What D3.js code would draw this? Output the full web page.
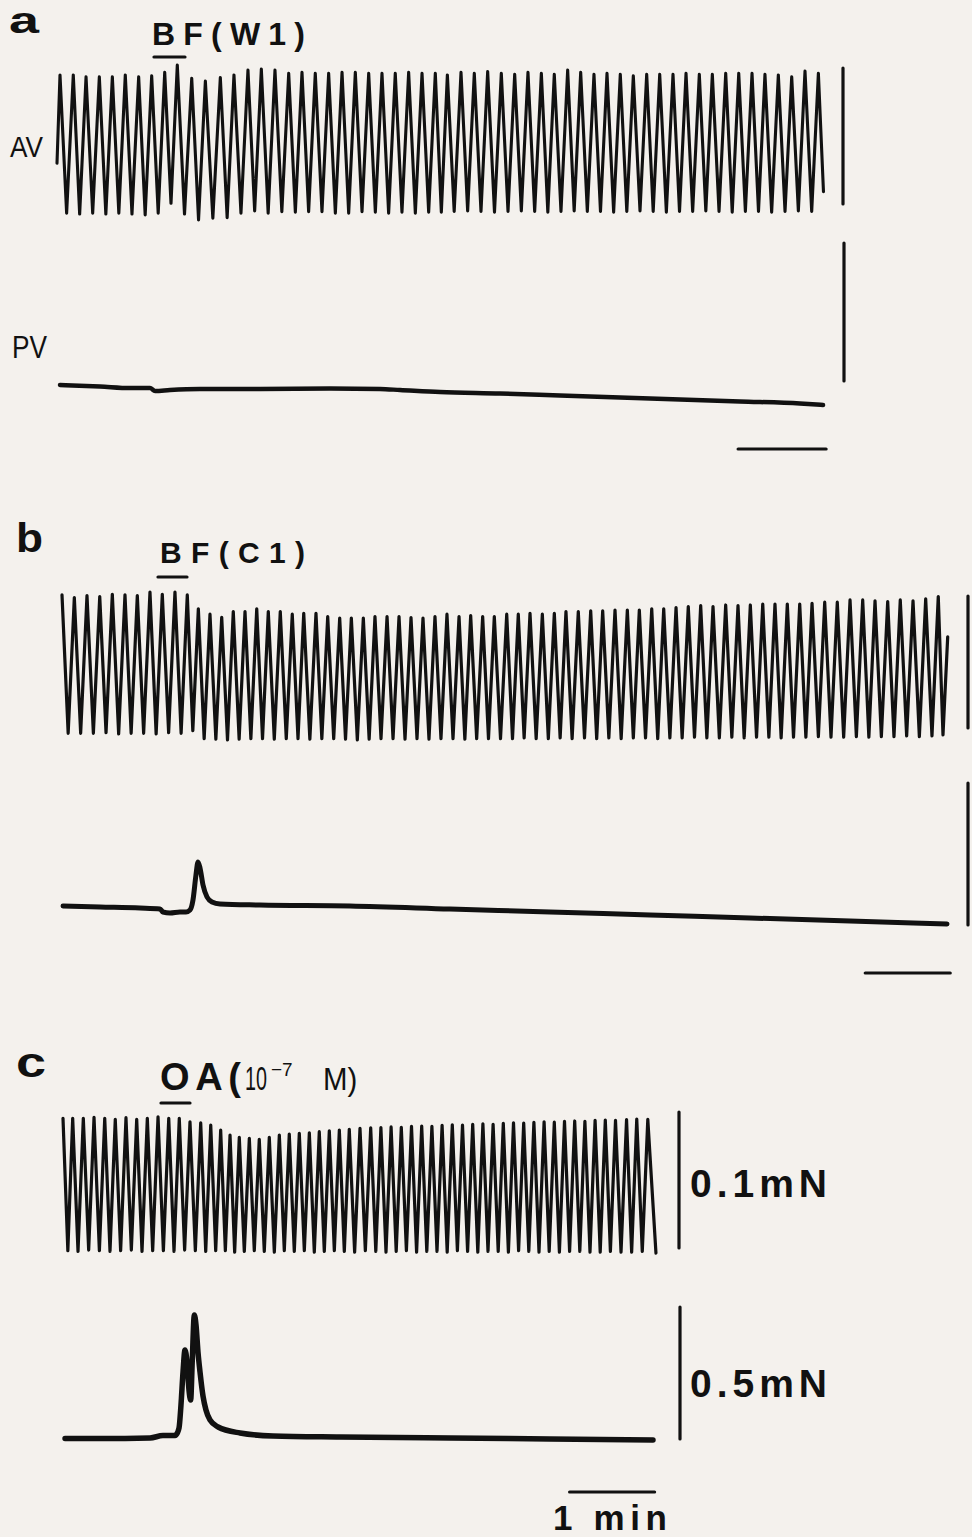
<!DOCTYPE html>
<html><head><meta charset="utf-8">
<script src="https://cdn.jsdelivr.net/npm/d3@7"></script>
<style>html,body{margin:0;padding:0;background:#f4f1ed;} svg{display:block;}</style>
</head><body>
<script>
// ---------------- DATA (time in min, force in µN) ----------------
// Panel a : BF(W1)
const aAvStart = [0, 30];
const aAvEnd = [8.71, 9];
const aAvPeakT = [0.034,0.185,0.330,0.481,0.629,0.776,0.928,1.076,1.224,1.367,1.531,1.686,1.856,2.011,2.170,2.322,2.477,2.633,2.784,2.935,3.087,3.239,3.390,3.542,3.693,3.844,3.996,4.148,4.299,4.436,4.591,4.742,4.894,5.049,5.201,5.352,5.504,5.651,5.803,5.951,6.102,6.250,6.401,6.549,6.701,6.849,7.000,7.148,7.299,7.447,7.599,7.747,7.898,8.045,8.197,8.349,8.500,8.652];
const aAvPeakV = [94.9,94.9,93.6,93.6,93.6,94.9,93.6,94.3,96.8,102.2,92.4,90.4,92.9,94.9,98.5,99.3,98.5,96.1,96.8,96.1,96.1,96.8,96.8,96.1,96.1,96.1,96.8,96.1,96.1,94.9,96.8,96.1,97.3,96.1,95.4,96.8,96.1,95.4,98.5,96.8,95.4,96.1,95.4,94.3,95.4,95.4,95.4,96.1,95.4,95.4,96.1,96.1,96.1,95.4,94.9,93.6,97.8,96.1];
const aAvTroughV = [-6.8,-7.4,-6.8,-7.4,-6.8,-7.4,-8.1,-6.8,0.5,-7.4,-11.8,-10.5,-10.1,-6.8,-5.1,-6.8,-5.6,-6.1,-5.6,-5.6,-6.8,-6.8,-5.6,-6.1,-6.8,-6.1,-6.8,-6.1,-6.1,-5.5,-5.1,-5.5,-6.1,-5.5,-5.1,-5.5,-6.1,-5.5,-5.1,-5.5,-5.5,-6.1,-5.5,-5.1,-5.5,-6.1,-5.5,-5.5,-5.1,-5.5,-6.1,-5.5,-5.5,-6.1,-5.5,-5.1,-5.5];
const aPvT = [0.034,0.489,0.830,1.057,1.114,1.284,1.625,2.307,3.102,3.670,3.898,4.352,5.034,5.716,6.398,7.080,7.761,8.443,8.705];
const aPvV = [-14.5,-19.9,-25.4,-25.4,-36.2,-32.6,-29.0,-29.0,-27.2,-29.0,-32.6,-39.9,-45.3,-52.5,-59.8,-67.0,-74.3,-81.5,-87.0];

// Panel b : BF(C1)
const bAvEnd = [10.42, 69];
const bAvPeakT = [0,0.145,0.294,0.444,0.592,0.741,0.886,1.035,1.180,1.329,1.474,1.604,1.741,1.879,2.015,2.153,2.291,2.427,2.568,2.709,2.844,2.988,3.126,3.267,3.404,3.545,3.682,3.824,3.965,4.106,4.247,4.388,4.529,4.671,4.808,4.949,5.086,5.232,5.368,5.506,5.651,5.792,5.929,6.074,6.220,6.361,6.506,6.651,6.792,6.938,7.079,7.224,7.368,7.514,7.659,7.808,7.953,8.098,8.244,8.388,8.533,8.679,8.824,8.973,9.121,9.271,9.420,9.565,9.714,9.862,10.012,10.161,10.309];
const bAvPeakV = [100.8,98.8,100.3,99.5,101.3,100.8,100.3,102.9,101.3,102.9,100.8,90.2,86.2,83.9,88.2,88.2,90.2,88.2,88.2,86.2,86.9,86.9,84.4,83.2,83.2,83.2,84.4,84.4,84.4,83.6,83.2,84.4,86.2,84.4,85.1,84.4,84.4,86.2,86.2,86.9,86.2,86.9,88.2,88.2,88.7,88.7,89.4,89.4,89.4,90.2,90.2,91.2,91.9,92.7,91.9,93.2,92.7,93.2,93.8,93.8,93.8,93.8,94.5,95.3,95.3,97.0,97.0,96.3,95.7,97.0,96.3,97.8,99.5];
const bAvTroughV = [-4,-4,-4,-3.5,-4.5,-4,-4,-4.5,-3.5,-4,-2,-8,-8.5,-9,-8.5,-8,-8,-8.5,-8,-8,-8.5,-8,-8,-8.5,-9,-8.5,-8,-8,-8.5,-8,-8.5,-8,-8,-8.5,-8,-8,-8,-8,-7.5,-8,-8,-7.5,-8,-7.5,-8,-7.5,-8,-7.5,-7.5,-8,-7.5,-7.5,-7,-7.5,-7.5,-7,-7.5,-7,-7,-7.5,-7,-7,-6.5,-7,-7,-6.5,-7,-6.5,-6.5,-6,-6.5,-6,-5.3];
const bPvT = [0.012,0.447,0.918,1.153,1.188,1.271,1.388,1.459,1.506,1.541,1.576,1.600,1.624,1.659,1.706,1.765,1.859,2.329,3.388,4.565,5.741,6.918,8.094,9.271,10.412];
const bPvV = [66.9,63.4,59.8,56.3,45.8,42.2,45.8,45.8,52.8,88.0,176.0,221.8,200.6,140.8,98.6,81.0,73.9,70.4,66.9,56.3,45.8,35.2,24.6,14.1,3.5];

// Panel c : OA (10^-7 M)
const cAvEnd = [6.976, -3.7];
const cAvPeakT = [0,0.114,0.239,0.365,0.491,0.615,0.741,0.867,0.992,1.118,1.244,1.368,1.494,1.620,1.738,1.855,1.965,2.074,2.192,2.309,2.427,2.545,2.662,2.780,2.898,3.015,3.133,3.251,3.368,3.494,3.620,3.74,3.86,3.98,4.10,4.22,4.34,4.46,4.58,4.70,4.82,4.94,5.06,5.18,5.30,5.42,5.54,5.66,5.78,5.90,6.02,6.14,6.26,6.38,6.50,6.63,6.75,6.88];
const cAvPeakV = [95.3,95.3,95.3,96.1,95.3,94.6,95.8,94.6,95.3,96.5,95.3,95.3,92.8,92.1,90.4,86.7,83.1,81.4,80.6,79.9,81.4,83.1,83.8,84.3,84.7,85.5,86.2,86.7,87.2,88.0,88.4,88.6,89.0,88.8,89.5,89.7,89.4,90.2,90.6,90.4,91.0,91.3,91.0,91.7,92.0,91.8,92.4,92.8,92.5,93.1,93.4,93.2,93.8,94.1,93.9,94.5,94.8,94.6];
const cAvTroughV = [-2.0,-2.5,-1.5,-2.0,-2.5,-2.0,-1.5,-2.5,-2.0,-2.0,-2.5,-1.5,-2.0,-2.5,-2.0,-2.0,-3.0,-2.5,-2.0,-2.5,-3.0,-2.0,-2.5,-2.0,-3.0,-2.5,-2.0,-2.5,-3.0,-2.0,-2.5,-3.0,-2.5,-2.0,-3.0,-2.5,-2.5,-3.0,-2.0,-2.5,-3.0,-2.5,-2.5,-3.0,-2.0,-2.5,-3.0,-2.5,-3.0,-2.5,-2.5,-3.0,-3.0,-2.5,-3.0,-3.0,-2.5];
const cPvT = [0.024,0.435,1.024,1.176,1.318,1.329,1.365,1.388,1.412,1.435,1.459,1.482,1.502,1.521,1.545,1.565,1.588,1.612,1.647,1.682,1.729,1.824,2.082,2.471,3.259,4.553,5.729,6.941];
const cPvV = [1.9,1.9,3.8,13.3,13.3,15.2,41.7,128.8,253.8,337.1,291.7,185.6,147.7,299.2,469.7,431.8,329.6,253.8,162.9,109.8,72.0,45.5,22.7,11.4,7.6,3.8,0,-3.8];

// scale bar values
const avBarValue = [0, 100];   // 0.1 mN
const pvBarValue = [0, 500];   // 0.5 mN
const timeBarValue = 1;        // 1 min

// ---------------- LAYOUT ----------------
const W = 972, H = 1537, INK = "#111111";
const panels = [
  {id:"a", x0:57, ppm:88, dur:8.71, avBar:{x:843,top:68,bottom:204}, pvBar:{x:844,top:243,bottom:381},
   tBar:{y:449,start:7.74}, avW:3.1, pvW:4.5,
   av:{start:aAvStart, pt:aAvPeakT, pv:aAvPeakV, tv:aAvTroughV, end:aAvEnd}, pvT:aPvT, pvV:aPvV},
  {id:"b", x0:62, ppm:85, dur:10.42, avBar:{x:968,top:596,bottom:728}, pvBar:{x:968,top:783,bottom:925},
   tBar:{y:973,start:9.45}, avW:3.2, pvW:5,
   av:{start:null, pt:bAvPeakT, pv:bAvPeakV, tv:bAvTroughV, end:bAvEnd}, pvT:bPvT, pvV:bPvV},
  {id:"c", x0:63, ppm:85, dur:6.976, avBar:{x:679,top:1112,bottom:1248}, pvBar:{x:680,top:1307,bottom:1439},
   tBar:{y:1492,start:5.96}, avW:3.2, pvW:5.5,
   av:{start:null, pt:cAvPeakT, pv:cAvPeakV, tv:cAvTroughV, end:cAvEnd}, pvT:cPvT, pvV:cPvV}
];

const svg = d3.select("body").append("svg").attr("width", W).attr("height", H);
svg.append("rect").attr("width", W).attr("height", H).attr("fill", "#f4f1ed");

function avPoints(a){
  const pts = [];
  if (a.start) pts.push(a.start);
  for (let i = 0; i < a.pt.length; i++){
    pts.push([a.pt[i], a.pv[i]]);
    if (i < a.tv.length){
      const nextT = i + 1 < a.pt.length ? a.pt[i+1] : a.end[0];
      pts.push([(a.pt[i] + nextT) / 2, a.tv[i]]);
    }
  }
  if (a.end) pts.push(a.end);
  return pts;
}

panels.forEach(p => {
  const x = d3.scaleLinear().domain([0, p.dur]).range([p.x0, p.x0 + p.dur * p.ppm]);
  const yAv = d3.scaleLinear().domain(avBarValue).range([p.avBar.bottom, p.avBar.top]);
  const yPv = d3.scaleLinear().domain(pvBarValue).range([p.pvBar.bottom, p.pvBar.top]);
  const g = svg.append("g").attr("class", "panel-" + p.id);

  const avLine = d3.line().x(d => x(d[0])).y(d => yAv(d[1])).curve(d3.curveLinear);
  g.append("path").datum(avPoints(p.av)).attr("d", avLine)
    .attr("fill", "none").attr("stroke", INK).attr("stroke-width", p.avW)
    .attr("stroke-linejoin", "round").attr("stroke-linecap", "round");

  const pvLine = d3.line().x(d => x(d[0])).y(d => yPv(d[1])).curve(d3.curveMonotoneX);
  g.append("path").datum(p.pvT.map((t, i) => [t, p.pvV[i]])).attr("d", pvLine)
    .attr("fill", "none").attr("stroke", INK).attr("stroke-width", p.pvW)
    .attr("stroke-linejoin", "round").attr("stroke-linecap", "round");

  // vertical scale bars
  g.append("line").attr("x1", p.avBar.x).attr("x2", p.avBar.x)
    .attr("y1", yAv(avBarValue[0])).attr("y2", yAv(avBarValue[1]))
    .attr("stroke", INK).attr("stroke-width", 3.2).attr("stroke-linecap", "round");
  g.append("line").attr("x1", p.pvBar.x).attr("x2", p.pvBar.x)
    .attr("y1", yPv(pvBarValue[0])).attr("y2", yPv(pvBarValue[1]))
    .attr("stroke", INK).attr("stroke-width", 3.2).attr("stroke-linecap", "round");
  // time bar
  g.append("line").attr("x1", x(p.tBar.start)).attr("x2", x(p.tBar.start + timeBarValue))
    .attr("y1", p.tBar.y).attr("y2", p.tBar.y)
    .attr("stroke", INK).attr("stroke-width", 3.2).attr("stroke-linecap", "round");
});

// ---------------- TEXT ----------------
const FONT = "'Liberation Sans', Arial, Helvetica, sans-serif";
function txt(s, x, y, size, weight, len, adj){
  const t = svg.append("text").attr("x", x).attr("y", y).text(s)
    .attr("font-family", FONT)
    .attr("font-size", size).attr("font-weight", weight).attr("fill", INK);
  if (len) t.attr("textLength", len).attr("lengthAdjust", adj || "spacing");
  return t;
}
// horizontally condensed text via transform (keeps real glyph box)
function ctxt(s, x, y, size, weight, sx){
  return svg.append("text").attr("transform", `translate(${x},${y}) scale(${sx},1)`).text(s)
    .attr("font-family", FONT).attr("font-size", size).attr("font-weight", weight).attr("fill", INK);
}
function uline(x1, x2, y){
  svg.append("line").attr("x1", x1).attr("x2", x2).attr("y1", y).attr("y2", y)
    .attr("stroke", INK).attr("stroke-width", 3.2).attr("stroke-linecap", "round");
}
// panel letters
txt("a", 9, 33, 36, "bold", 30, "spacingAndGlyphs");
txt("b", 16, 552, 40, "bold", 27, "spacingAndGlyphs");
txt("c", 16, 1077, 42, "bold", 30, "spacingAndGlyphs");
// stimulus labels
txt("BF(W1)", 152, 45, 32, "bold", 153, "spacing");
uline(154, 185, 57);
txt("BF(C1)", 160, 563, 30, "bold", 145, "spacing");
uline(158, 187, 577);
txt("OA(", 160, 1090, 38, "bold", 81, "spacing");
ctxt("10", 245, 1090, 34, "normal", 0.58);
ctxt("−7", 271, 1076, 19, "normal", 1.0);
ctxt("M)", 323, 1090, 32, "normal", 0.92);
uline(161, 190, 1103);
// trace labels
txt("AV", 10, 157, 30, "normal", 33, "spacingAndGlyphs");
txt("PV", 12, 358, 32, "normal", 35, "spacingAndGlyphs");
// scale labels
txt("0.1mN", 690, 1197, 39, "bold", 137, "spacing");
txt("0.5mN", 690, 1397, 39, "bold", 137, "spacing");
txt("1 min", 553, 1530, 35, "bold", 114, "spacing");
</script>
</body></html>
